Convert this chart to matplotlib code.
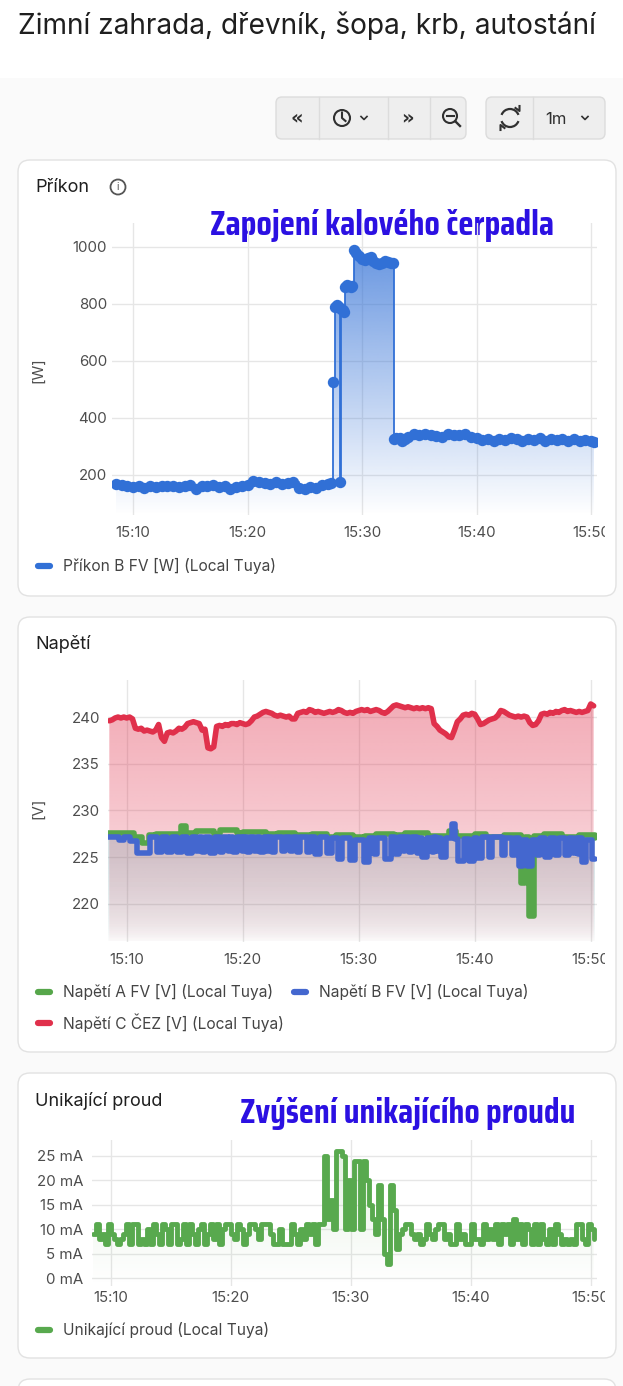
import numpy as np
import matplotlib
matplotlib.use("Agg")
import matplotlib.pyplot as plt
from matplotlib import font_manager as fm
from matplotlib.colors import to_rgb
from matplotlib.patches import FancyBboxPatch, Circle, Arc, Polygon
from matplotlib.transforms import Bbox

W, H = 623, 1386
plt.rcParams['font.family'] = ['Inter', 'DejaVu Sans']

page_title = "Zimní zahrada, dřevník, šopa, krb, autostání"
tick_min = [10, 20, 30, 40, 50]          # minutes after 15:00
tick_lab = ["15:10", "15:20", "15:30", "15:40", "15:50"]

# --- Příkon B FV [W] (minutes after 15:00, watts) ---
pw_t = list(np.arange(8.5, 27.01, 0.5)) + [
    27.3, 27.5, 27.65, 27.8, 27.95, 28.1, 28.2, 28.35, 28.45, 28.55,
    28.7, 28.85, 29.0, 29.15, 29.3, 29.5, 29.75, 30.0, 30.25, 30.5,
    30.75, 31.0, 31.25, 31.5, 31.75, 32.0, 32.25, 32.5, 32.7, 32.8,
    33.0, 33.3, 33.5, 33.75] + list(np.arange(34.0, 50.01, 0.5)) + [50.3]
pw_v = [170, 165, 162, 158, 160, 155, 160, 158, 162, 160, 163, 158, 162, 165,
        152, 163, 160, 165, 158, 160, 152, 158, 162, 165, 178, 175, 172, 168,
        175, 170, 172, 176, 155, 150, 158, 155, 165, 170,
        172, 525, 790, 798, 790, 175, 782, 778, 772, 860,
        865, 862, 860, 862, 990, 978, 968, 958, 955, 962,
        965, 952, 945, 942, 944, 950, 948, 945, 944, 325,
        330, 330, 318, 325,
        335, 345, 342, 345, 340, 338, 335, 345, 342, 340, 345, 335, 330, 322,
        325, 320, 328, 322, 330, 325, 320, 328, 322, 330, 318, 325, 322, 328,
        320, 325, 318, 322, 318, 315]

# --- Napětí C ČEZ [V], one reading every 15 s from 15:08:30 ---
red_t0, red_dt = 8.5, 0.25
red_v = [239.6, 239.7, 239.9, 240.0, 239.9, 240.0, 239.9, 240.0, 239.8, 238.8,
         238.7, 238.8, 238.5, 238.6, 238.5, 238.4, 238.6, 239.2, 237.8, 237.4,
         238.3, 238.4, 238.3, 238.5, 238.8, 238.7, 238.9, 239.3, 239.4, 239.5,
         239.4, 239.3, 238.6, 238.7, 236.7, 236.6, 236.8, 239.0, 239.1, 239.0,
         239.2, 239.1, 239.3, 239.3, 239.2, 239.4, 239.3, 239.2, 239.3, 239.6,
         240.0, 240.1, 240.3, 240.5, 240.6, 240.5, 240.4, 240.2, 240.1, 240.2,
         240.1, 240.0, 240.1, 239.8, 239.8, 240.4, 240.5, 240.6, 240.5, 240.8,
         240.7, 240.5, 240.6, 240.5, 240.4, 240.5, 240.6, 240.5, 240.6, 240.8,
         240.7, 240.5, 240.4, 240.5, 240.4, 240.6, 240.7, 240.8, 240.7, 240.8,
         240.6, 240.7, 240.8, 240.7, 240.5, 240.4, 240.6, 240.9, 241.2, 241.3,
         241.2, 241.1, 241.0, 241.1, 241.0, 240.9, 241.0, 240.9, 241.0, 240.9,
         241.0, 240.9, 239.3, 239.0, 238.6, 238.4, 238.2, 237.9, 237.8, 238.6,
         239.5, 239.8, 240.2, 240.3, 240.2, 240.4, 240.3, 239.8, 239.2, 239.3,
         239.5, 239.7, 239.8, 239.9, 240.2, 240.7, 240.6, 240.4, 240.2, 240.1,
         240.0, 240.1, 240.0, 240.1, 240.0, 239.4, 239.1, 239.2, 239.6, 240.3,
         240.4, 240.3, 240.5, 240.4, 240.6, 240.5, 240.7, 240.8, 240.6, 240.7,
         240.6, 240.5, 240.6, 240.5, 240.6, 240.7, 241.4, 241.2]
red_t = red_t0 + red_dt * np.arange(len(red_v))

# --- Napětí A / B (change points, minutes / volts) ---
green_t = [8.4, 10.6, 11.3, 11.95, 12.5, 14.7, 15.1, 16.0, 17.5, 18.0, 19.5,
           20.0, 22.0, 23.0, 24.5, 26.0, 27.3, 28.0, 29.5, 30.5, 31.5, 33.0,
           34.0, 36.0, 37.8, 38.4, 40.0, 41.0, 42.5, 43.95, 44.35, 44.65,
           45.15, 46.0, 47.5, 49.0, 50.35]
green_v = [227.6, 227.2, 226.5, 227.4, 227.5, 228.3, 227.6, 227.8, 227.5, 227.9,
           227.6, 227.7, 227.5, 227.6, 227.4, 227.5, 227.2, 227.4, 227.1, 227.3,
           227.5, 227.4, 227.6, 227.3, 227.8, 227.3, 227.5, 227.2, 227.4, 222.2,
           227.2, 218.7, 227.3, 227.5, 227.2, 227.4, 227.0]
blue_t = [8.4, 9.3, 9.8, 10.3, 10.86, 12.0, 12.6, 13.0, 13.45, 13.9, 14.3,
          14.75, 15.2, 15.6, 16.0, 16.2, 16.5, 16.75, 17.2, 17.6, 18.05, 18.3,
          18.7, 18.9, 19.2, 19.5, 19.9, 20.1, 20.35, 20.6, 21.0, 21.2, 21.5,
          21.8, 22.1, 22.25, 22.5, 22.8, 23.35, 23.65, 24.1, 24.3, 24.65, 24.95,
          25.5, 25.8, 26.25, 26.65, 27.25, 27.7, 28.25, 28.55, 29.25, 29.7,
          30.45, 30.85, 31.3, 31.6, 32.3, 32.75, 33.15, 33.45, 33.8, 34.0,
          34.3, 34.6, 35.0, 35.2, 35.45, 35.9, 36.3, 36.5, 36.7, 36.85, 37.05,
          37.5, 38.0, 38.3, 38.6, 39.05, 39.5, 39.9, 40.2, 40.6, 41.2, 41.5,
          42.35, 42.65, 43.2, 43.5, 43.8, 44.2, 44.5, 44.95, 45.35, 45.65,
          46.1, 46.5, 46.95, 47.25, 47.8, 48.1, 48.5, 48.7, 48.9, 49.05, 49.25,
          49.55, 50.1, 50.35]
blue_v = [227.1, 226.8, 227.1, 226.7, 225.4, 227.2, 225.5, 227.2, 225.5, 227.2,
          225.5, 227.2, 225.4, 227.2, 225.6, 227.1, 225.5, 227.1, 225.4, 227.2,
          225.5, 227.2, 225.6, 227.2, 225.5, 227.2, 225.6, 227.1, 225.5, 227.2,
          225.6, 227.2, 225.5, 227.2, 225.7, 227.1, 225.5, 227.1, 225.6, 227.2,
          225.6, 227.1, 225.5, 227.2, 225.5, 227.1, 225.3, 227.1, 225.4, 227.0,
          224.8, 227.0, 224.7, 226.8, 224.5, 227.0, 225.3, 227.0, 224.8, 227.1,
          225.3, 227.2, 225.6, 227.1, 225.5, 227.1, 225.4, 227.0, 225.0, 227.0,
          225.5, 227.1, 225.6, 227.0, 225.0, 227.0, 228.5, 226.9, 224.6, 226.9,
          224.6, 227.0, 224.9, 227.1, 225.0, 227.1, 225.2, 227.0, 225.2, 227.0,
          224.0, 226.8, 224.0, 226.8, 225.2, 227.0, 225.0, 227.0, 225.2, 227.0,
          225.2, 227.0, 225.4, 227.0, 225.3, 227.0, 224.5, 226.8, 224.8, 224.8]

# --- Unikající proud [mA], one reading every 15 s from 15:08:30 ---
leak_t0, leak_dt = 8.5, 0.25
leak_v = [9, 11, 8, 9, 7, 11, 9, 8, 7, 8, 9, 11, 7, 11, 11, 7,
          8, 7, 10, 7, 11, 9, 7, 11, 10, 7, 11, 11, 7, 8, 11, 7,
          11, 9, 7, 10, 11, 7, 9, 11, 8, 11, 7, 10, 11, 11, 9, 8,
          11, 10, 7, 9, 11, 11, 10, 8, 11, 11, 11, 9, 7, 7, 10, 7,
          7, 7, 11, 9, 7, 10, 8, 11, 9, 11, 7, 11,
          11, 25, 12, 16, 10, 26, 26, 25, 10, 20, 10, 24, 24, 10, 24, 20,
          15, 12, 9, 19, 12, 5, 3, 19, 14, 6, 9, 10,
          11, 11, 9, 8, 9, 7, 8, 11, 9, 8, 10, 11, 11, 8, 9, 7,
          7, 11, 8, 9, 7, 7, 11, 8, 8, 7, 11, 8, 10, 8, 11, 7,
          11, 9, 11, 7, 12, 8, 11, 7, 11, 10, 7, 11, 7, 11, 8, 7,
          10, 7, 11, 9, 7, 8, 7, 8, 7, 11, 11, 8, 7, 11, 10, 8]
leak_t = leak_t0 + leak_dt * np.arange(len(leak_v))

# ---------------------------------------------------------------
fig = plt.figure(figsize=(W / 100, H / 100), dpi=100, facecolor='#fafafa')
bg = fig.add_axes([0, 0, 1, 1])
bg.set_xlim(0, W)
bg.set_ylim(H, 0)
bg.axis('off')
bg.set_zorder(0)

TXT = '#1f1f1f'
GREY = '#4d4d4d'
ANN = '#2b10e2'
TICK_FS = 10.8
LEG_FS = 11.2
ANN_TEXT1 = "Zapojení kalového čerpadla"
ANN_W1, ANN_SIZE = 343, 25.5


def text_width(s, prop, size):
    tt = fig.text(0, 0, s, fontproperties=prop, fontsize=size)
    w = tt.get_window_extent(fig.canvas.get_renderer()).width
    tt.remove()
    return w


def condensed_bold():
    # pick the narrow bold face whose size, fitted to the width, is closest to the picture
    best, score = None, None
    for f in fm.fontManager.ttflist:
        n = (f.name + ' ' + f.fname).lower()
        narrow = ('condensed' in n or 'narrow' in n or
                  str(f.stretch) in ('condensed', 'semi-condensed', 'extra-condensed'))
        if not narrow or 'mono' in n or f.style != 'normal':
            continue
        w = f.weight if isinstance(f.weight, (int, float)) else fm.weight_dict.get(f.weight, 400)
        if w < 600 or w > 850:
            continue
        prop = fm.FontProperties(fname=f.fname)
        try:
            size = 24 * ANN_W1 / text_width(ANN_TEXT1, prop, 24)
        except Exception:
            continue
        s = abs(size - ANN_SIZE) + abs(w - 700) / 100
        if score is None or s < score:
            best, score = prop, s
    if best is not None:
        return best
    return fm.FontProperties(family=['Roboto', 'DejaVu Sans'], weight='bold')


def fit(txt, width):
    r = fig.canvas.get_renderer()
    w = txt.get_window_extent(r).width
    txt.set_fontsize(txt.get_fontsize() * width / w)


# header
bg.add_patch(plt.Rectangle((0, 0), W, 78, fc='white', ec='none'))
t = bg.text(18, 26, page_title, fontsize=17, color=TXT, va='center')
fit(t, 580)

# toolbar buttons
for x0, w in [(276, 190), (486, 119)]:
    bg.add_patch(FancyBboxPatch((x0, 97), w, 42, boxstyle="round,pad=0,rounding_size=6",
                                fc='#eeeeee', ec='#dcdcdc', lw=1))
for xs in [319, 388, 430, 533]:
    bg.plot([xs, xs], [97, 139], color='#dcdcdc', lw=1)
ic = '#303030'
bg.text(297, 118, "«", fontsize=14, fontweight='bold', color=ic, ha='center', va='center',
        family='DejaVu Sans')
bg.text(407, 118, "»", fontsize=14, fontweight='bold', color=ic, ha='center', va='center',
        family='DejaVu Sans')
bg.add_patch(Circle((342, 118), 8, fill=False, ec=ic, lw=1.5))
bg.plot([342, 342, 345.5], [112.5, 118, 121], color=ic, lw=1.5)
for cx in [364, 585]:
    bg.plot([cx - 3, cx, cx + 3], [116.5, 119.5, 116.5], color=ic, lw=1.2)
bg.add_patch(Circle((450, 116), 7, fill=False, ec=ic, lw=1.5))
bg.plot([446.5, 453.5], [116, 116], color=ic, lw=1.5)
bg.plot([455.2, 460], [121.2, 126], color=ic, lw=1.7)
bg.add_patch(Arc((510, 118), 18, 18, theta1=200, theta2=340, ec=ic, lw=1.6))
bg.add_patch(Arc((510, 118), 18, 18, theta1=20, theta2=160, ec=ic, lw=1.6))
bg.plot([515.5, 519.5, 519.5], [108, 111, 106], color=ic, lw=1.5)
bg.plot([504.5, 500.5, 500.5], [128, 125, 130], color=ic, lw=1.5)
bg.text(556, 119, "1m", fontsize=12, color=ic, ha='center', va='center')

# cards
for y0, h in [(160, 436), (617, 435), (1073, 285), (1379, 80)]:
    bg.add_patch(FancyBboxPatch((18, y0), 598, h, boxstyle="round,pad=0,rounding_size=12",
                                fc='white', ec='#e2e2e2', lw=1))

bg.text(35, 188, "Příkon", fontsize=13, color=TXT, va='center')
bg.add_patch(Circle((118, 187), 7.5, fill=False, ec='#555555', lw=1.3))
bg.text(118, 187.5, "i", fontsize=7.5, color='#555555', ha='center', va='center')
bg.text(35, 644, "Napětí", fontsize=13, color=TXT, va='center')
bg.text(35, 1101, "Unikající proud", fontsize=13, color=TXT, va='center')

cprop = condensed_bold()
a1 = bg.text(210, 226, ANN_TEXT1, fontproperties=cprop, fontsize=24,
             color=ANN, va='center', zorder=10)
fit(a1, ANN_W1)
a2 = bg.text(240, 1113, "Zvýšení unikajícího proudu", fontproperties=cprop, fontsize=24,
             color=ANN, va='center', zorder=10)
fit(a2, 335)

bg.text(38, 370, "[W]", fontsize=TICK_FS, color=GREY, rotation=90, ha='center', va='center')
bg.text(38, 808, "[V]", fontsize=TICK_FS, color=GREY, rotation=90, ha='center', va='center')

# legends
C_PW = '#3170d6'
C_GR = '#56a64a'
C_BL = '#4467cf'
C_RD = '#e0304b'
C_LK = '#58a94e'
for px, py, c, s in [(36, 566, C_PW, "Příkon B FV [W] (Local Tuya)"),
                     (36, 992, C_GR, "Napětí A FV [V] (Local Tuya)"),
                     (292, 992, C_BL, "Napětí B FV [V] (Local Tuya)"),
                     (36, 1023, C_RD, "Napětí C ČEZ [V] (Local Tuya)"),
                     (36, 1330, C_LK, "Unikající proud (Local Tuya)")]:
    bg.plot([px + 2, px + 14], [py, py], color=c, lw=4.5, solid_capstyle='round')
    bg.text(px + 27, py, s, fontsize=LEG_FS, color='#444444', va='center')


# ---------------------------------------------------------------
def px_axes(x0, y0, x1, y1):
    ax = fig.add_axes([x0 / W, 1 - y1 / H, (x1 - x0) / W, (y1 - y0) / H])
    ax.set_zorder(2)
    return ax


def style(ax, xlim, ylim, yticks, ylabels, ypad, xpad):
    ax.set_facecolor('none')
    ax.set_xlim(xlim)
    ax.set_ylim(ylim)
    ax.set_xticks(tick_min, tick_lab)
    ax.set_yticks(yticks, ylabels)
    for s in ax.spines.values():
        s.set_visible(False)
    ax.tick_params(length=0, labelsize=TICK_FS, labelcolor=GREY)
    ax.tick_params(axis='y', pad=ypad)
    ax.tick_params(axis='x', pad=xpad)
    ax.grid(True, color='#e6e6e6', lw=1)
    ax.set_axisbelow(True)
    last = ax.get_xticklabels()[-1]
    last.set_clip_on(True)
    last.set_clip_box(Bbox.from_extents(0, 0, 605, H))


def step_xy(t, v):
    t = np.asarray(t, float)
    v = np.asarray(v, float)
    return np.repeat(t, 2)[1:], np.repeat(v, 2)[:-1]


def grad_fill(ax, t, v, color, amax, gamma, steps=True, z=1):
    if steps:
        ts, vs = step_xy(t, v)
    else:
        ts, vs = np.asarray(t, float), np.asarray(v, float)
    x0, x1 = ax.get_xlim()
    y0, y1 = ax.get_ylim()
    verts = np.column_stack([np.r_[ts[0], ts, ts[-1]], np.r_[y0, vs, y0]])
    poly = Polygon(verts, closed=True, fc='none', ec='none')
    ax.add_patch(poly)
    f = np.linspace(0, 1, 300)[:, None]
    img = np.zeros((300, 1, 4))
    img[..., :3] = to_rgb(color)
    img[..., 3] = amax * f ** gamma
    im = ax.imshow(img, extent=[x0, x1, y0, y1], origin='lower', aspect='auto',
                   interpolation='bilinear', zorder=z)
    im.set_clip_path(poly)
    ax.set_xlim(x0, x1)
    ax.set_ylim(y0, y1)


# chart 1: Příkon
ax1 = px_axes(112, 223, 597, 515)
style(ax1, (8.166, 50.52), (59.6, 1084.2), [200, 400, 600, 800, 1000],
      ["200", "400", "600", "800", "1000"], 3.6, 8)
grad_fill(ax1, pw_t, pw_v, C_PW, 0.8, 1.0)
ax1.plot(pw_t, pw_v, drawstyle='steps-post', color=C_PW, lw=1.3, zorder=3)
ax1.plot(pw_t, pw_v, ls='none', marker='o', ms=8.2, mew=0, color=C_PW, zorder=4)

# chart 2: Napětí
ax2 = px_axes(108, 680, 597, 942)
style(ax2, (8.388, 50.54), (215.9, 243.97), [220, 225, 230, 235, 240],
      ["220", "225", "230", "235", "240"], 5.8, 8)
grad_fill(ax2, red_t, red_v, C_RD, 0.42, 0.6, steps=False)
grad_fill(ax2, green_t, green_v, C_GR, 0.22, 0.6)
grad_fill(ax2, blue_t, blue_v, C_BL, 0.22, 0.6)
for tt, vv, c in [(green_t, green_v, C_GR), (blue_t, blue_v, C_BL)]:
    ax2.plot(tt, vv, drawstyle='steps-post', color=c, lw=4.0, zorder=4,
             solid_joinstyle='round', solid_capstyle='round')
ax2.plot(red_t, red_v, color=C_RD, lw=4.0, zorder=4,
         solid_joinstyle='round', solid_capstyle='round')

# chart 3: Unikající proud
ax3 = px_axes(92, 1140, 597, 1286)
style(ax3, (8.44, 50.53), (-1.57, 28.2), [0, 5, 10, 15, 20, 25],
      ["0 mA", "5 mA", "10 mA", "15 mA", "20 mA", "25 mA"], 6.3, 3.6)
grad_fill(ax3, leak_t, leak_v, C_LK, 0.16, 1.0)
ax3.plot(leak_t, leak_v, drawstyle='steps-post', color=C_LK, lw=3.5, zorder=4,
         solid_joinstyle='round', solid_capstyle='round')

fig.savefig("out.png", dpi=100, facecolor=fig.get_facecolor())
